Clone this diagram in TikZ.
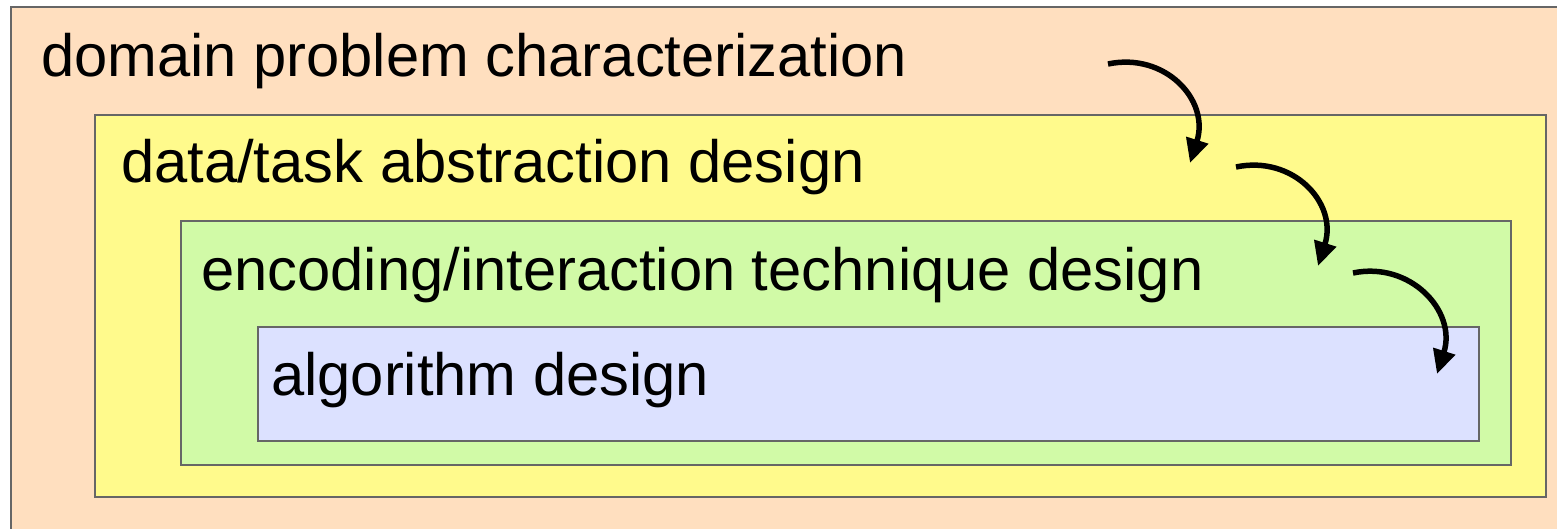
\documentclass[tikz,border=0pt]{standalone}
\usepackage{fontspec}
\setmainfont{Liberation Sans}
\usetikzlibrary{arrows.meta}
\definecolor{peach}{HTML}{FFDFBF}
\definecolor{lemon}{HTML}{FFFA8C}
\definecolor{mint}{HTML}{D1FAA7}
\definecolor{lavender}{HTML}{DCE1FF}
\definecolor{edge}{HTML}{666666}
\begin{document}
\begin{tikzpicture}[x=1pt,y=-1pt,
  layer/.style={draw=edge,line width=2.5pt},
  label/.style={anchor=base west,inner sep=0pt,font=\fontsize{59.7}{70}\selectfont},
  flow/.style={line width=5.5pt,-{Triangle[length=24pt,width=22pt]}}]
\useasboundingbox (0,0) rectangle (1557,529);
% nested design levels, outermost first
\fill[white] (0,0) rectangle (1557,529);
\draw[layer,fill=peach] (11,7) rectangle (1600,580);
\draw[layer,fill=lemon] (95,115) rectangle (1546,497);
\draw[layer,fill=mint] (181,221) rectangle (1511,465);
\draw[layer,fill=lavender] (258,327) rectangle (1479,441);
% level names
\node[label] (domain) at (41,77) {domain problem characterization};
\node[label] (abstr) at (121,183) {data/task abstraction design};
\node[label] (enc) at (201,290) {encoding/interaction technique design};
\node[label] (algo) at (271,395) {algorithm design};
% cascading arrows between levels
\coordinate (a1s) at (1108,64);  \coordinate (a1e) at (1190,163);
\coordinate (a2s) at (1236,167); \coordinate (a2e) at (1318,266);
\coordinate (a3s) at (1353,273); \coordinate (a3e) at (1437,374);
\draw[flow] (a1s) .. controls +(57,-12) and +(20,-63) .. (a1e);
\draw[flow] (a2s) .. controls +(57,-12) and +(20,-63) .. (a2e);
\draw[flow] (a3s) .. controls +(57,-12) and +(20,-63) .. (a3e);
\end{tikzpicture}
\end{document}
